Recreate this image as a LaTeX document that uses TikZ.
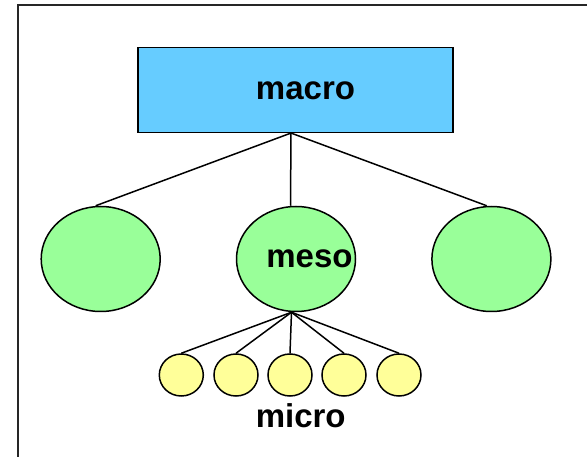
\documentclass[tikz,border=0pt]{standalone}
\usepackage{fontspec}
\setmainfont{Liberation Sans}
\usetikzlibrary{shapes.geometric,calc}
\definecolor{macroblue}{HTML}{66CCFF}
\definecolor{mesogreen}{HTML}{99FF99}
\definecolor{microyellow}{HTML}{FFFF99}
\tikzset{
  box/.style={draw=black, line width=1.5pt, fill=macroblue, rectangle, minimum width=315pt, minimum height=85pt, inner sep=0pt},
  mesonode/.style={draw=black, line width=1.5pt, fill=mesogreen, ellipse, minimum width=119pt, minimum height=105pt, inner sep=0pt},
  micronode/.style={draw=black, line width=1.5pt, fill=microyellow, ellipse, minimum width=44pt, minimum height=42pt, inner sep=0pt},
  lbl/.style={font=\fontsize{33}{39}\selectfont\bfseries, inner sep=0pt, anchor=base},
  link/.style={draw=black, line width=1.5pt}
}
\begin{document}
\begin{tikzpicture}[x=1pt,y=-1pt]
\useasboundingbox (0,0) rectangle (587,457);
\clip (0,0) rectangle (587,457);
\fill[white] (0,0) rectangle (587,457);
\draw[line width=1.5pt, draw=black!85] (18,470) -- (18,5) -- (600,5);

\node[box] (macro) at (295.5,89.8) {};
\node[lbl] (macrolbl) at (305.5,100) {macro};

\node[mesonode] (l) at (100.7,259) {};
\node[mesonode] (m) at (296,259) {};
\node[mesonode] (r) at (491.4,259) {};
\node[lbl] (mesolbl) at (309.5,268) {meso};

\coordinate (top) at ($(macro.south)+(-4.5,0)$);
\draw[link] (top) -- ($(l.north)+(-5,0)$);
\draw[link] (top) -- ($(m.north)+(-5.5,0)$);
\draw[link] (top) -- ($(r.north)+(-4.7,0)$);

\node[micronode] (u1) at (181.3,375) {};
\node[micronode] (u2) at (236,375) {};
\node[micronode] (u3) at (290,375) {};
\node[micronode] (u4) at (344,375) {};
\node[micronode] (u5) at (399,375) {};
\node[lbl] (microlbl) at (300.7,427) {micro};

\coordinate (mbot) at ($(m.south)+(-4.5,0)$);
\foreach \n in {u1,u2,u3,u4,u5} {
  \draw[link] (mbot) -- (\n.north);
}
\end{tikzpicture}
\end{document}
